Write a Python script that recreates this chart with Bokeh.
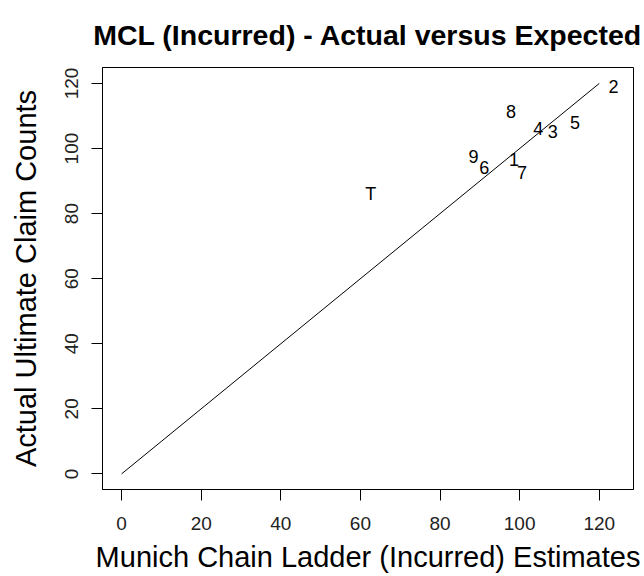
from bokeh.plotting import figure
from bokeh.models import Range1d, FixedTicker, ColumnDataSource
from bokeh.core.properties import value
from bokeh.embed import file_html
from bokeh.resources import INLINE

# Origin period labels with MCL (incurred) estimate vs. actual ultimate counts
period_labels = ["1", "2", "3", "4", "5", "6", "7", "8", "9", "T"]
mcl_estimates = [98.6, 123.6, 108.3, 104.7, 113.9, 91.1, 100.6, 97.8, 88.4, 62.6]
actual_counts = [96.5, 119.0, 105.2, 106.0, 108.0, 94.2, 92.7, 111.4, 97.5, 86.0]

# Reference line: actual = expected
ref_x = [0, 120]
ref_y = [0, 120]

tick_values = [0, 20, 40, 60, 80, 100, 120]

FONT = "Liberation Sans"

# Plot box limits (data range padded by 4%, as in base R graphics)
x_lo, x_hi = -4.8, 128.6
y_lo, y_hi = -4.8, 124.9

p = figure(
    width=644, height=576,
    output_backend="svg", toolbar_location=None,
    x_range=Range1d(x_lo, x_hi), y_range=Range1d(y_lo, y_hi),
    title="MCL (Incurred) - Actual versus Expected",
    min_border_left=102, min_border_right=11,
    min_border_top=67, min_border_bottom=87,
)

p.background_fill_color = "white"
p.border_fill_color = "white"
p.outline_line_color = "black"
p.outline_line_width = 1
p.xgrid.visible = False
p.ygrid.visible = False

p.title.text_font = FONT
p.title.text_font_size = "28.5px"
p.title.text_font_style = "bold"
p.title.align = "center"
p.title.text_color = "black"
p.title.standoff = 33

for ax in (p.xaxis[0], p.yaxis[0]):
    ax.ticker = FixedTicker(ticks=tick_values)
    ax.minor_tick_line_color = None
    ax.major_tick_out = 11
    ax.major_tick_in = 0
    ax.major_tick_line_color = "black"
    ax.axis_line_color = "black"
    ax.major_label_text_font = FONT
    ax.major_label_text_font_size = "19px"
    ax.major_label_text_color = "#222222"
    ax.axis_label_text_font = FONT
    ax.axis_label_text_font_size = "29px"
    ax.axis_label_text_font_style = "normal"
    ax.axis_label_text_color = "black"

p.xaxis.axis_label = "Munich Chain Ladder (Incurred) Estimates"
p.yaxis.axis_label = "Actual Ultimate Claim Counts"
p.xaxis.major_label_standoff = 16
p.yaxis.major_label_standoff = 13
p.yaxis.major_label_orientation = "vertical"
p.xaxis.axis_label_standoff = 8
p.yaxis.axis_label_standoff = 21

p.line(ref_x, ref_y, line_color="black", line_width=1)

src = ColumnDataSource(dict(x=mcl_estimates, y=actual_counts, lab=period_labels))
p.text(x="x", y="y", text="lab", source=src,
       text_font=value(FONT), text_font_size="18px",
       text_align="center", text_baseline="middle", text_color="black")

open("out.html", "w").write(file_html(p, INLINE))
